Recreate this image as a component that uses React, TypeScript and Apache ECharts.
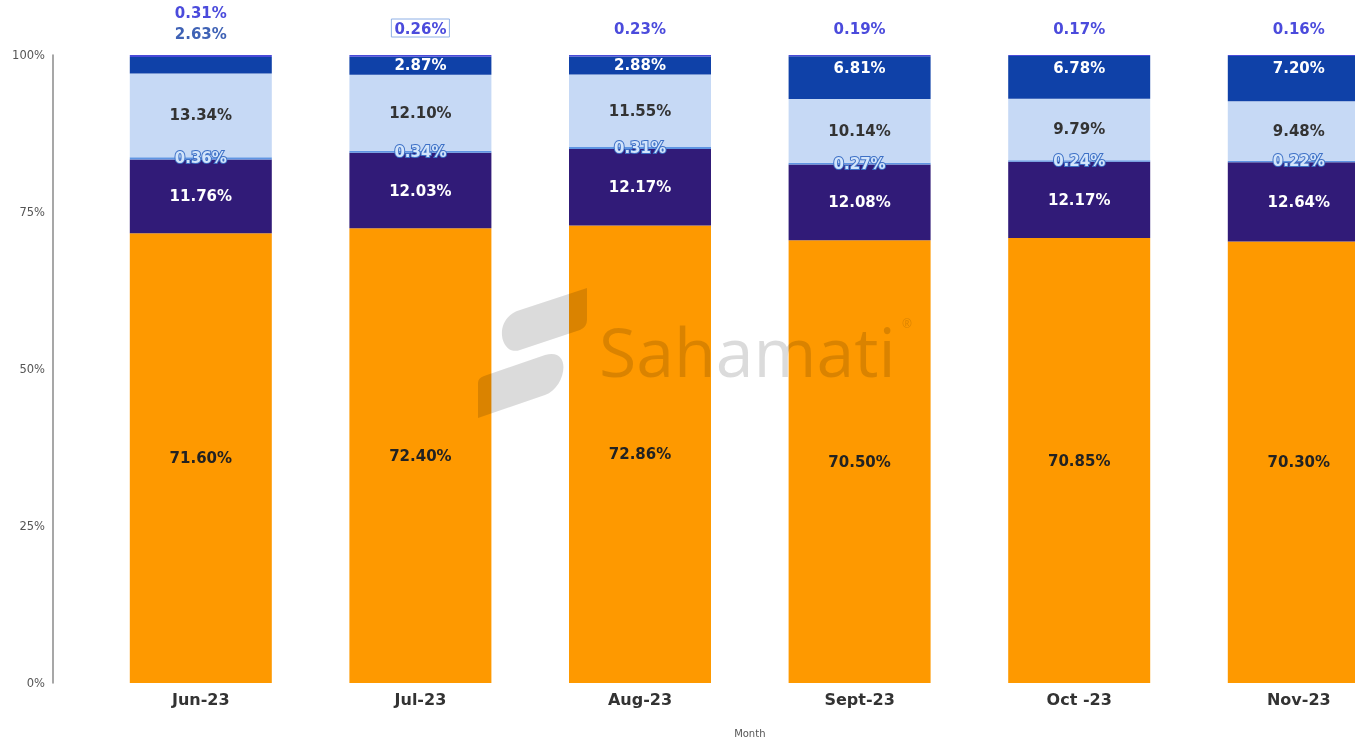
import React, { useEffect, useRef } from "react";
import * as echarts from "echarts";

const months = ["Jun-23", "Jul-23", "Aug-23", "Sept-23", "Oct -23", "Nov-23"];
const segA = [71.6, 72.4, 72.86, 70.5, 70.85, 70.3];
const segB = [11.76, 12.03, 12.17, 12.08, 12.17, 12.64];
const segC = [0.36, 0.34, 0.31, 0.27, 0.24, 0.22];
const segD = [13.34, 12.1, 11.55, 10.14, 9.79, 9.48];
const segE = [2.63, 2.87, 2.88, 6.81, 6.78, 7.2];
const segF = [0.31, 0.26, 0.23, 0.19, 0.17, 0.16];
const yTicks = [0, 25, 50, 75, 100];

const FONT = "DejaVu Sans";
const fmt = (v: number) => v.toFixed(2) + "%";

const upperS =
  "M 520 310 L 587 288 L 587 320 Q 587 327 580 330 L 520 350 C 500 357 492 318 520 310 Z";
const lowerS =
  "M 484 376 L 545 355 C 573 347 566 388 545 395 L 478 418 L 478 383 Q 478 378 484 376 Z";

export default function App() {
  const ref = useRef<HTMLDivElement>(null);
  useEffect(() => {
    if (!ref.current) return;
    try {
      echarts.graphic.registerShape("sUpper", echarts.graphic.extendPath(upperS, {}) as any);
      echarts.graphic.registerShape("sLower", echarts.graphic.extendPath(lowerS, {}) as any);
    } catch (e) {}
    const chart = echarts.init(ref.current, null, { renderer: "svg" });
    const baseLabel = {
      show: true,
      fontFamily: FONT,
      fontWeight: "bold" as const,
      fontSize: 15,
      formatter: (p: any) => fmt(p.value),
    };
    const eData = segE.map((v, i) => {
      if (i === 0)
        return { value: v, label: { position: "top", distance: 15, color: "#3f62b5" } };
      if (i < 3) return { value: v, label: { position: "insideTop", distance: 1 } };
      return { value: v, label: { position: "insideTop", distance: 4 } };
    });
    const fData = segF.map((v, i) => {
      if (i === 0) return { value: v, label: { distance: 35 } };
      if (i === 1)
        return {
          value: v,
          label: { distance: 18, borderColor: "#8fb0e6", borderWidth: 1, padding: [2, 3, 1, 3] },
        };
      return { value: v, label: { distance: 19 } };
    });
    const bar = (name: string, data: any[], color: string, label: any) => ({
      name,
      type: "bar",
      stack: "total",
      barWidth: 142,
      data,
      itemStyle: { color },
      label: { ...baseLabel, ...label },
    });
    chart.setOption({
      animation: false,
      grid: { left: 91, top: 55, bottom: 57, width: 1317.6, outerBoundsMode: "none", containLabel: false },
      xAxis: {
        type: "category",
        data: months,
        axisLine: { show: false },
        axisTick: { show: false },
        axisLabel: { fontFamily: FONT, fontWeight: "bold", fontSize: 16, color: "#333", margin: 8 },
        name: "Month",
        nameLocation: "middle",
        nameGap: 45,
        nameTextStyle: { fontFamily: FONT, fontSize: 10, color: "#555" },
      },
      yAxis: {
        type: "value",
        min: yTicks[0],
        max: yTicks[yTicks.length - 1],
        interval: 25,
        offset: 38,
        axisLine: { show: true, lineStyle: { color: "#8a8a8a", width: 1.5 } },
        axisTick: { show: false },
        splitLine: { show: false },
        axisLabel: {
          fontFamily: FONT,
          fontSize: 11.5,
          color: "#555",
          margin: 8,
          formatter: (v: number) => v + "%",
        },
      },
      series: [
        bar("A", segA, "#fe9900", { position: "inside", color: "#222" }),
        bar("B", segB, "#311b78", { position: "inside", color: "#ffffff" }),
        bar("C", segC, "#5f95e3", {
          position: "inside",
          color: "#d3e5fb",
          textBorderColor: "#3d70c6",
          textBorderWidth: 2,
        }),
        bar("D", segD, "#c6d9f5", { position: "inside", color: "#333" }),
        bar("E", eData, "#0f41a8", { color: "#ffffff" }),
        bar("F", fData, "#4a4ad8", { position: "top", color: "#4b4bdc" }),
      ],
      graphic: [
        { type: "sUpper", x: 0, y: 0, z: 100, style: { fill: "rgba(0,0,0,0.14)" } },
        { type: "sLower", x: 0, y: 0, z: 100, style: { fill: "rgba(0,0,0,0.14)" } },
        {
          type: "text",
          x: 599,
          y: 350,
          z: 100,
          style: {
            text: "Sahamati",
            fontFamily: "Open Sans",
            fontSize: 68,
            fill: "rgba(0,0,0,0.14)",
            verticalAlign: "middle",
          },
        },
        {
          type: "text",
          x: 902,
          y: 323,
          z: 100,
          style: { text: "®", fontFamily: "Open Sans", fontSize: 12, fill: "rgba(0,0,0,0.14)", verticalAlign: "middle" },
        },
      ],
    });
    return () => chart.dispose();
  }, []);
  return (
    <div style={{ position: "fixed", left: 0, top: 0, width: 1355, height: 740, overflow: "hidden" }}>
      <div ref={ref} style={{ width: 1420, height: 740 }} />
    </div>
  );
}
